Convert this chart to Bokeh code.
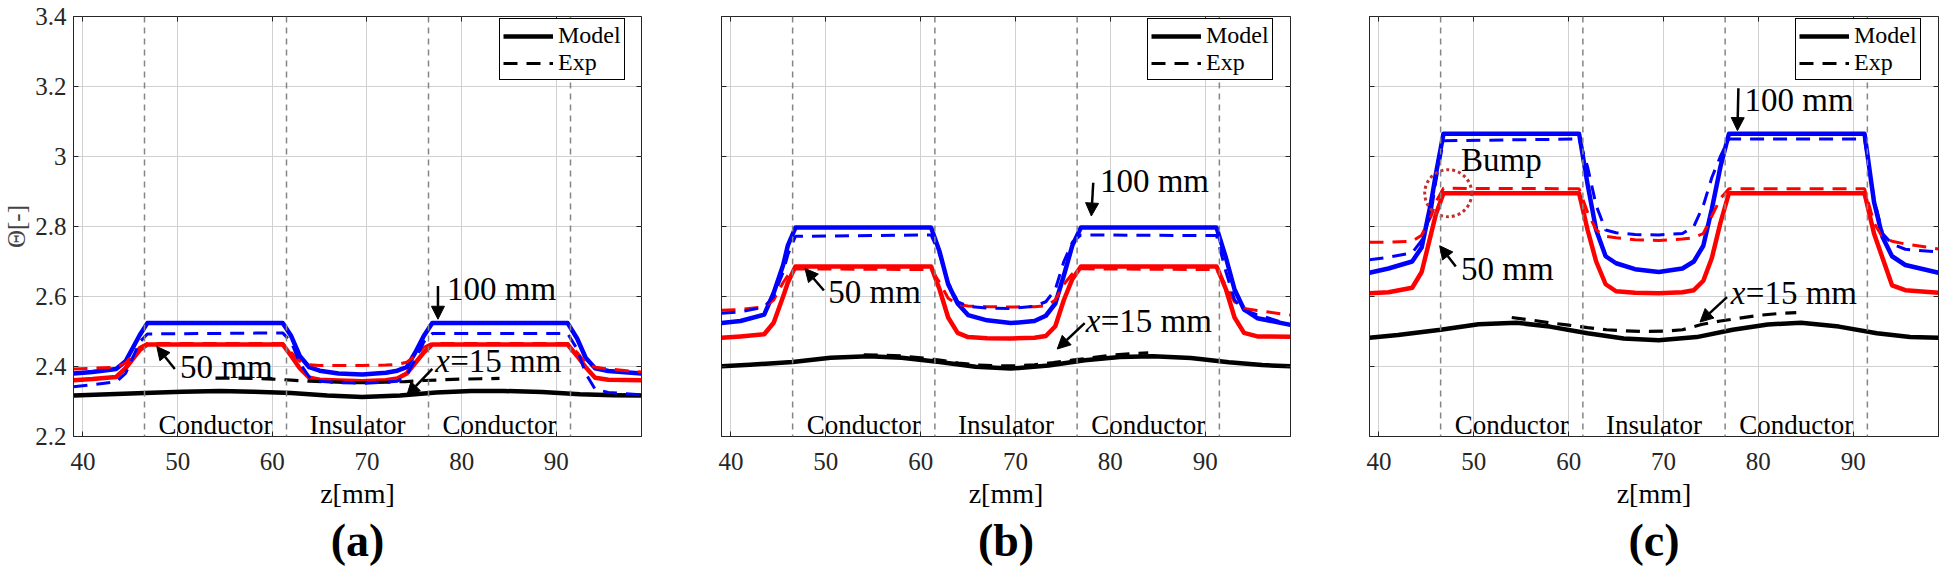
from bokeh.plotting import figure
from bokeh.layouts import row
from bokeh.models import (Range1d, Span, Label, Arrow, NormalHead, LinearAxis, Title,
                          FixedTicker, Legend, LegendItem, CustomJSTickFormatter)
from bokeh.embed import file_html
from bokeh.resources import INLINE

FONT = "'Liberation Serif', serif"

X_TICKS = [40, 50, 60, 70, 80, 90]
Y_TICKS = [2.2, 2.4, 2.6, 2.8, 3.0, 3.2, 3.4]
BOUNDARIES = [46.5, 61.5, 76.5, 91.5]
REGION_Z = [54, 69, 84]
REGION_NAMES = ["Conductor", "Insulator", "Conductor"]
PANEL_TAGS = ["(a)", "(b)", "(c)"]

# z positions [mm] for the 100 mm / 50 mm curves
Z_STEP = [39, 41, 43.5, 44.5, 45.5, 46, 46.8, 61.1, 62, 62.9, 63.9, 65, 67, 69.5,
          72, 73.2, 74.2, 75.1, 76, 76.9, 91.2, 92.2, 93.1, 94.1, 95.5, 99]
# z positions for the x=15 mm curves
Z_BLACK = [39, 42, 46.5, 50.5, 54.5, 58, 62, 65.8, 69.5, 73.5, 77.3, 81, 84.5,
           88.5, 92.5, 96, 99]
Z_BLACK_EXP = [54, 56, 58, 60, 62, 64, 66, 68, 70, 72, 74, 76, 78, 80, 82, 84]

# ---- panel (a)
A_BLUE_MODEL = [2.380, 2.384, 2.393, 2.415, 2.465, 2.490, 2.524, 2.524, 2.487, 2.430,
                2.398, 2.388, 2.380, 2.377, 2.382, 2.388, 2.398, 2.440, 2.487, 2.524,
                2.524, 2.480, 2.425, 2.395, 2.387, 2.380]
A_BLUE_EXP = [2.342, 2.348, 2.356, 2.380, 2.440, 2.470, 2.493, 2.496, 2.470, 2.410,
              2.370, 2.358, 2.354, 2.352, 2.355, 2.358, 2.375, 2.420, 2.470, 2.494,
              2.494, 2.450, 2.380, 2.335, 2.326, 2.319]
A_RED_MODEL = [2.361, 2.364, 2.370, 2.395, 2.430, 2.447, 2.463, 2.463, 2.430, 2.395,
               2.368, 2.362, 2.360, 2.358, 2.361, 2.366, 2.380, 2.410, 2.440, 2.463,
               2.463, 2.430, 2.398, 2.368, 2.362, 2.361]
A_RED_EXP = [2.393, 2.395, 2.398, 2.410, 2.440, 2.455, 2.466, 2.466, 2.440, 2.415,
             2.405, 2.403, 2.403, 2.403, 2.404, 2.406, 2.412, 2.430, 2.455, 2.466,
             2.466, 2.440, 2.410, 2.398, 2.393, 2.384]
A_BLACK_MODEL = [2.317, 2.320, 2.324, 2.328, 2.330, 2.328, 2.324, 2.317, 2.313, 2.317,
                 2.326, 2.330, 2.330, 2.327, 2.321, 2.318, 2.317]
A_BLACK_EXP = [2.367, 2.367, 2.366, 2.364, 2.361, 2.358, 2.356, 2.354, 2.354, 2.355,
               2.357, 2.360, 2.362, 2.364, 2.365, 2.366]

# ---- panel (b)
B_BLUE_MODEL = [2.524, 2.530, 2.548, 2.610, 2.690, 2.746, 2.797, 2.797, 2.728, 2.635,
                2.580, 2.547, 2.532, 2.524, 2.530, 2.545, 2.580, 2.660, 2.746, 2.797,
                2.797, 2.710, 2.620, 2.563, 2.538, 2.519]
B_BLUE_EXP = [2.552, 2.556, 2.570, 2.600, 2.670, 2.720, 2.772, 2.776, 2.720, 2.640,
              2.585, 2.572, 2.567, 2.566, 2.572, 2.585, 2.620, 2.700, 2.755, 2.776,
              2.774, 2.670, 2.590, 2.560, 2.548, 2.519]
B_RED_MODEL = [2.482, 2.486, 2.492, 2.525, 2.600, 2.640, 2.686, 2.686, 2.620, 2.540,
               2.496, 2.484, 2.481, 2.480, 2.482, 2.487, 2.515, 2.590, 2.650, 2.686,
               2.686, 2.620, 2.540, 2.496, 2.486, 2.485]
B_RED_EXP = [2.561, 2.563, 2.570, 2.590, 2.640, 2.660, 2.679, 2.677, 2.640, 2.595,
             2.577, 2.573, 2.571, 2.570, 2.571, 2.573, 2.590, 2.635, 2.665, 2.679,
             2.677, 2.630, 2.585, 2.566, 2.560, 2.547]
B_BLACK_MODEL = [2.401, 2.405, 2.413, 2.425, 2.429, 2.425, 2.413, 2.399, 2.394, 2.403,
                 2.418, 2.427, 2.429, 2.424, 2.412, 2.404, 2.401]
B_BLACK_EXP = [2.433, 2.432, 2.430, 2.425, 2.418, 2.410, 2.404, 2.402, 2.402, 2.405,
               2.411, 2.418, 2.425, 2.432, 2.436, 2.439]

# ---- panel (c)
C_BLUE_MODEL = [2.668, 2.680, 2.700, 2.740, 2.870, 2.950, 3.065, 3.065, 2.920, 2.790,
                2.715, 2.695, 2.678, 2.670, 2.680, 2.700, 2.745, 2.850, 2.970, 3.065,
                3.065, 2.870, 2.770, 2.715, 2.690, 2.668]
C_BLUE_EXP = [2.705, 2.712, 2.725, 2.760, 2.840, 2.930, 3.045, 3.050, 2.970, 2.860,
              2.790, 2.782, 2.777, 2.776, 2.780, 2.800, 2.860, 2.940, 3.000, 3.050,
              3.050, 2.880, 2.780, 2.750, 2.735, 2.727]
C_RED_MODEL = [2.609, 2.612, 2.625, 2.670, 2.780, 2.835, 2.895, 2.895, 2.790, 2.700,
               2.635, 2.615, 2.611, 2.609, 2.612, 2.618, 2.645, 2.710, 2.810, 2.895,
               2.895, 2.780, 2.710, 2.632, 2.618, 2.611]
C_RED_EXP = [2.755, 2.755, 2.758, 2.775, 2.830, 2.870, 2.909, 2.908, 2.840, 2.790,
             2.772, 2.768, 2.762, 2.760, 2.764, 2.768, 2.780, 2.830, 2.880, 2.908,
             2.908, 2.810, 2.770, 2.758, 2.750, 2.736]
C_BLACK_MODEL = [2.482, 2.490, 2.505, 2.521, 2.525, 2.514, 2.495, 2.480, 2.475, 2.484,
                 2.505, 2.520, 2.525, 2.514, 2.495, 2.484, 2.482]
C_BLACK_EXP = [2.540, 2.533, 2.525, 2.518, 2.511, 2.505, 2.502, 2.500, 2.501, 2.505,
               2.520, 2.530, 2.538, 2.546, 2.551, 2.554]

BUMP_Z, BUMP_THETA = 47.3, 2.895

BLUE, RED, BLACK = "#0000ff", "#ff0000", "#000000"


def arrow(p, x0, y0, x1, y1):
    p.add_layout(Arrow(end=NormalHead(size=13, fill_color="black", line_color="black"),
                       x_start=x0, y_start=y0, x_end=x1, y_end=y1,
                       line_color="black", line_width=2.5))


def note(p, x, y, text, size="33px", style="normal", align="left", x_offset=0):
    p.add_layout(Label(x=x, y=y, text=text, x_offset=x_offset,
                       text_font=FONT, text_font_size=size, text_font_style=style,
                       text_align=align, text_baseline="middle", text_color="black"))


def panel(tag, series, notes, left, right, first=False):
    blue_m, blue_e, red_m, red_e, blk_m, blk_e = series
    p = figure(width=left + 569 + right, height=16 + 420 + 135,
               min_border_left=left, min_border_right=right,
               min_border_top=16, min_border_bottom=135,
               x_range=Range1d(39, 99), y_range=Range1d(2.2, 3.4),
               output_backend="svg", toolbar_location=None, tools="",
               background_fill_color="white", border_fill_color="white")
    p.outline_line_color = "#262626"
    p.outline_line_width = 1

    xax, yax = p.below[0], p.left[0]
    xax.ticker = FixedTicker(ticks=X_TICKS)
    yax.ticker = FixedTicker(ticks=Y_TICKS)
    for ax in (xax, yax):
        ax.major_tick_in = 5
        ax.major_tick_out = 0
        ax.minor_tick_line_color = None
        ax.axis_line_color = "#262626"
        ax.major_tick_line_color = "#262626"
        ax.major_label_text_font = FONT
        ax.major_label_text_font_size = "25px"
        ax.major_label_text_color = "#262626"
    xax.major_label_standoff = 16
    if first:
        yax.formatter = CustomJSTickFormatter(
            code="return tick.toFixed(1).replace(/\\.0$/, '');")
        yax.major_label_standoff = 7
        yax.axis_label = "\u0398[-]"
        yax.axis_label_text_font = FONT
        yax.axis_label_text_font_size = "25px"
        yax.axis_label_text_font_style = "normal"
        yax.axis_label_standoff = 2
    else:
        yax.formatter = CustomJSTickFormatter(code="return '';")

    # box ticks on top and right
    for loc, ticks in (("above", X_TICKS), ("right", Y_TICKS)):
        ax = LinearAxis(ticker=FixedTicker(ticks=ticks),
                        formatter=CustomJSTickFormatter(code="return '';"),
                        major_tick_in=5, major_tick_out=0, major_label_standoff=0,
                        minor_tick_line_color=None, axis_line_color=None,
                        major_tick_line_color="#262626")
        p.add_layout(ax, loc)

    # x label and panel tag, stacked under the axis
    p.add_layout(Title(text="z[mm]", align="center", text_font=FONT,
                       text_font_size="28px", text_font_style="normal",
                       text_color="black", standoff=7), "below")
    p.add_layout(Title(text=tag, align="center", text_font=FONT,
                       text_font_size="46px", text_font_style="bold",
                       text_color="black", standoff=0), "below")

    p.xgrid.grid_line_color = "#d0d0d0"
    p.ygrid.grid_line_color = "#d0d0d0"
    p.xgrid.ticker = FixedTicker(ticks=X_TICKS)
    p.ygrid.ticker = FixedTicker(ticks=Y_TICKS)

    for b in BOUNDARIES:
        p.add_layout(Span(location=b, dimension="height", line_color="#858585",
                          line_width=1.5, line_dash="6 5"))

    # model curves
    r_model = p.line(Z_BLACK, blk_m, line_color=BLACK, line_width=4.5, line_join="round")
    p.line(Z_STEP, red_m, line_color=RED, line_width=4.5, line_join="round")
    p.line(Z_STEP, blue_m, line_color=BLUE, line_width=4.5, line_join="round")
    # experimental curves
    r_exp = p.line(Z_BLACK_EXP, blk_e, line_color=BLACK, line_width=3.2, line_dash="14 9")
    p.line(Z_STEP, red_e, line_color=RED, line_width=3, line_dash="14 9")
    p.line(Z_STEP, blue_e, line_color=BLUE, line_width=3, line_dash="14 9")

    legend = Legend(items=[LegendItem(label="Model", renderers=[r_model]),
                           LegendItem(label="Exp", renderers=[r_exp])],
                    location=(426, 356), padding=3, spacing=0, margin=0,
                    glyph_width=50, glyph_height=24, label_height=24,
                    label_standoff=5, label_text_font=FONT,
                    label_text_font_size="24px", label_text_line_height=0.95,
                    label_text_color="black",
                    border_line_color="black", border_line_alpha=1.0,
                    border_line_width=1, background_fill_alpha=1.0)
    p.add_layout(legend)

    # region names along the bottom of the frame
    for z, name in zip(REGION_Z, REGION_NAMES):
        p.add_layout(Label(x=z, y=2.189, text=name, text_font=FONT,
                           text_font_size="27px", text_align="center",
                           text_baseline="bottom", text_color="black"))

    # curve annotations
    (t100, a100), (t50, a50), (t15, a15) = notes
    note(p, t100[0], t100[1], "100 mm")
    arrow(p, *a100)
    note(p, t50[0], t50[1], "50 mm")
    arrow(p, *a50)
    note(p, t15[0], t15[1], "x", style="italic")
    note(p, t15[0], t15[1], "=15 mm", x_offset=15)
    arrow(p, *a15)
    return p


NOTES_A = [((78.45, 2.621), (77.5, 2.63, 77.5, 2.535)),
           ((50.26, 2.398), (49.7, 2.393, 47.8, 2.457)),
           ((77.2, 2.417), (76.9, 2.393, 74.2, 2.317))]
NOTES_B = [((78.9, 2.93), (78.2, 2.925, 78.0, 2.83)),
           ((50.26, 2.612), (49.8, 2.617, 47.8, 2.68)),
           ((77.4, 2.529), (77.3, 2.524, 74.4, 2.45))]
NOTES_C = [((78.55, 3.161), (77.9, 3.195, 77.8, 3.074)),
           ((48.66, 2.68), (48.1, 2.686, 46.4, 2.745)),
           ((77.1, 2.609), (76.7, 2.598, 73.85, 2.527))]

pa = panel(PANEL_TAGS[0], (A_BLUE_MODEL, A_BLUE_EXP, A_RED_MODEL, A_RED_EXP,
                           A_BLACK_MODEL, A_BLACK_EXP), NOTES_A, 72, 41, first=True)
pb = panel(PANEL_TAGS[1], (B_BLUE_MODEL, B_BLUE_EXP, B_RED_MODEL, B_RED_EXP,
                           B_BLACK_MODEL, B_BLACK_EXP), NOTES_B, 39, 40)
pc = panel(PANEL_TAGS[2], (C_BLUE_MODEL, C_BLUE_EXP, C_RED_MODEL, C_RED_EXP,
                           C_BLACK_MODEL, C_BLACK_EXP), NOTES_C, 39, 2)

# "Bump" marker in panel (c)
pc.scatter([BUMP_Z], [BUMP_THETA], marker="circle", size=47, fill_color=None,
           line_color="#c0302f", line_width=3, line_dash="3 3")
note(pc, 48.66, 2.99, "Bump")

layout = row(pa, pb, pc)
open("out.html", "w").write(file_html(layout, INLINE))
